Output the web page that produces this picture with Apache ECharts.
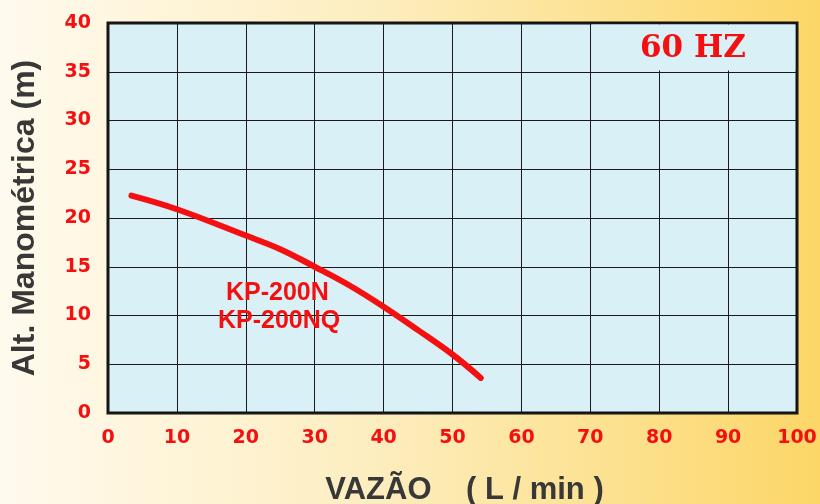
<!DOCTYPE html>
<html>
<head>
<meta charset="utf-8">
<script src="https://cdn.jsdelivr.net/npm/echarts@6/dist/echarts.min.js"></script>
<style>
  html, body { margin: 0; padding: 0; }
  #chart { width: 820px; height: 504px; }
</style>
</head>
<body>
<div id="chart"></div>
<script>
// curva KP-200N / KP-200NQ a 60 Hz
var vazao = [3.4, 10, 20, 25, 30, 35, 40, 45, 50, 54.1];
var altura = [22.3, 20.9, 18.2, 16.8, 15.0, 13.1, 10.9, 8.5, 6.0, 3.6];
var xTicks = [0, 10, 20, 30, 40, 50, 60, 70, 80, 90, 100];
var yTicks = [0, 5, 10, 15, 20, 25, 30, 35, 40];

var curva = [];
for (var i = 0; i < vazao.length; i++) {
    curva.push([vazao[i], altura[i]]);
}

var myChart = echarts.init(document.getElementById('chart'));
var vermelho = '#f41010';

option = {
    animation: false,
    backgroundColor: {
        type: 'linear', x: 0, y: 0, x2: 1, y2: 0,
        colorStops: [
            { offset: 0, color: '#fffaee' },
            { offset: 0.45, color: '#fdeec0' },
            { offset: 1, color: '#fcd667' }
        ]
    },
    grid: {
        left: 108, right: 23, top: 23, bottom: 91,
        outerBoundsMode: 'none',
        containLabel: false,
        show: true,
        backgroundColor: '#d9f1f6',
        borderColor: '#111',
        borderWidth: 3
    },
    xAxis: {
        type: 'value',
        min: xTicks[0], max: xTicks[xTicks.length - 1], interval: 10,
        name: 'VAZÃO    ( L / min )',
        nameLocation: 'middle',
        nameGap: 62,
        nameTextStyle: {
            fontFamily: 'Liberation Sans', fontWeight: 'bold', fontSize: 31,
            color: '#383838', padding: [0, 0, 0, 24]
        },
        axisLine: { show: false },
        axisTick: { show: false },
        axisLabel: {
            margin: 16, color: vermelho,
            fontFamily: 'DejaVu Sans', fontWeight: 'bold', fontSize: 19
        },
        splitLine: { show: true, lineStyle: { color: '#1a1a1a', width: 1 } }
    },
    yAxis: {
        type: 'value',
        min: yTicks[0], max: yTicks[yTicks.length - 1], interval: 5,
        name: 'Alt. Manométrica (m)',
        nameLocation: 'middle',
        nameGap: 67,
        nameTextStyle: {
            fontFamily: 'Liberation Sans', fontWeight: 'bold', fontSize: 32,
            color: '#383838'
        },
        axisLine: { show: false },
        axisTick: { show: false },
        axisLabel: {
            margin: 17, color: vermelho,
            fontFamily: 'DejaVu Sans', fontWeight: 'bold', fontSize: 19
        },
        splitLine: { show: true, lineStyle: { color: '#1a1a1a', width: 1 } }
    },
    graphic: [
        {
            type: 'text', left: 640, top: 33, z: 100,
            style: {
                text: '60 HZ', fill: vermelho,
                font: 'bold 31px "DejaVu Serif"'
            }
        },
        {
            type: 'text', left: 226, top: 281, z: 100,
            style: {
                text: 'KP-200N', fill: vermelho,
                font: 'bold 25px "Liberation Sans"'
            }
        },
        {
            type: 'text', left: 218, top: 309, z: 100,
            style: {
                text: 'KP-200NQ', fill: vermelho,
                font: 'bold 25px "Liberation Sans"'
            }
        }
    ],
    series: [
        {
            type: 'line',
            data: curva,
            smooth: 0.4,
            symbol: 'none',
            lineStyle: { color: vermelho, width: 6, cap: 'round' },
            markArea: {
                silent: true,
                itemStyle: { color: '#d9f1f6', opacity: 1 },
                data: [[{ coord: [70.2, 35.12] }, { coord: [99.75, 39.85] }]]
            }
        }
    ]
};
myChart.setOption(option);
</script>
</body>
</html>
